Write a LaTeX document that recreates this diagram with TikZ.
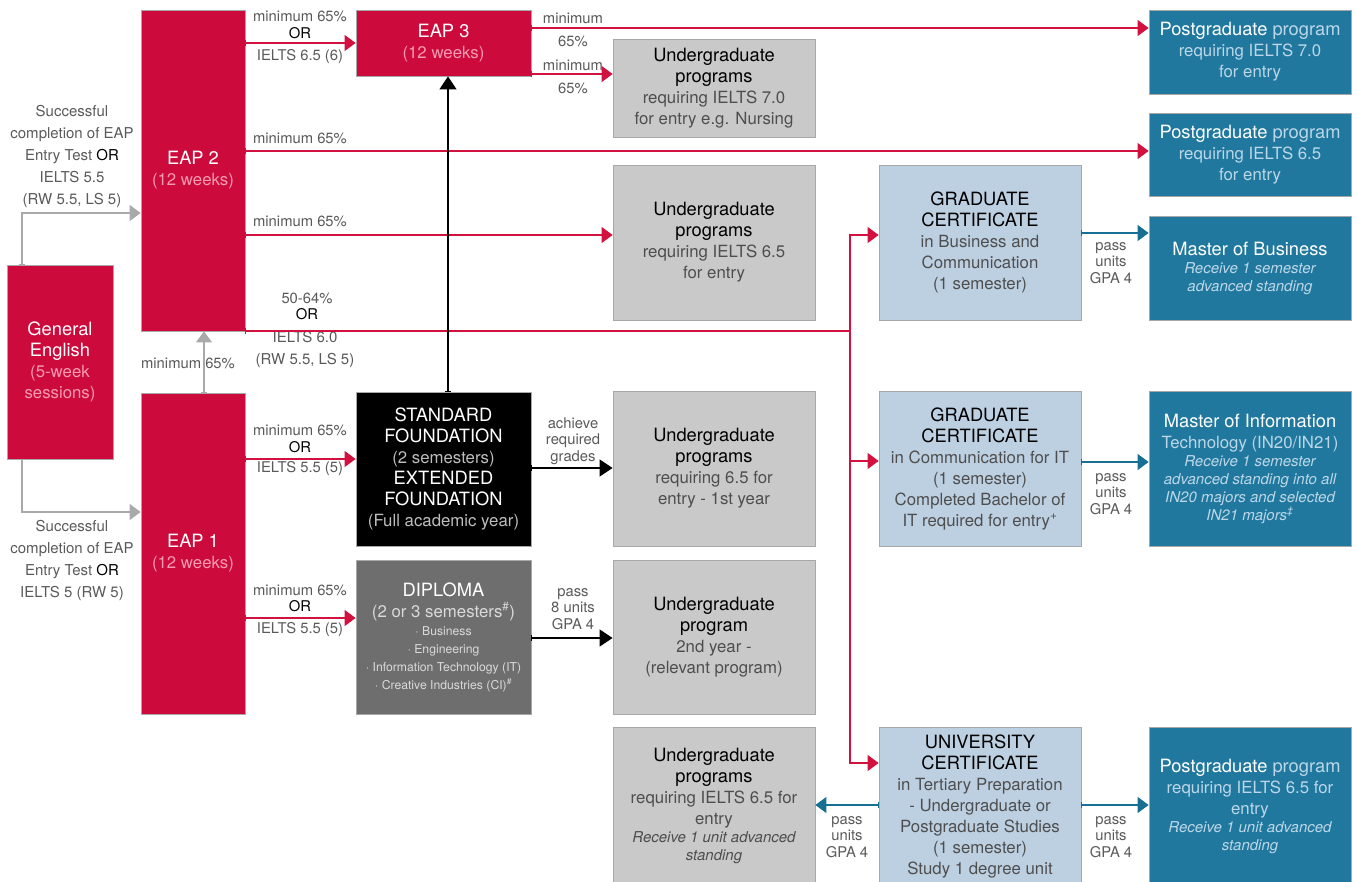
\documentclass[tikz,border=0pt]{standalone}
\usepackage{fontspec}
\setmainfont{TeX Gyre Heros}
\usetikzlibrary{arrows.meta}
\definecolor{eapred}{HTML}{CC0A3B}
\definecolor{pinktxt}{HTML}{F49BB3}
\definecolor{tealbox}{HTML}{21789E}
\definecolor{tealtxt}{HTML}{BBD7E8}
\definecolor{lbluebox}{HTML}{BDD0E2}
\definecolor{graybox}{HTML}{C9C9C9}
\definecolor{dipbox}{HTML}{6E6E6E}
\definecolor{diptxt}{HTML}{DADADA}
\definecolor{boxline}{HTML}{A8A8A8}
\definecolor{labgray}{HTML}{5A5A5A}
\definecolor{bodygray}{HTML}{4E4E4E}
\definecolor{sftxt}{HTML}{BDBDBD}
\definecolor{arrred}{HTML}{D3113F}
\definecolor{arrteal}{HTML}{176F93}
\definecolor{arrgray}{HTML}{A9A9A9}
\newcommand\Ttl[1]{{\fontsize{18.3}{21}\selectfont #1}}
\newcommand\Itl[1]{{\fontsize{15}{18}\selectfont\itshape #1}}
\newcommand\Sml[1]{{\fontsize{12.2}{18}\selectfont #1}}
\begin{document}
\begin{tikzpicture}[x=1pt,y=-1pt,
  box/.style={draw=boxline,line width=0.8pt,inner sep=0pt,align=center,font=\fontsize{16.8}{21}\selectfont},
  redbox/.style={box,fill=eapred,text=pinktxt},
  greybox/.style={box,fill=graybox,text=bodygray,minimum width=202pt},
  tbox/.style={box,fill=tealbox,text=tealtxt,minimum width=202pt},
  lbbox/.style={box,fill=lbluebox,text=bodygray,minimum width=202pt},
  lab/.style={inner sep=0pt,align=center,text=labgray,font=\fontsize{14.8}{16.5}\selectfont},
  llab/.style={inner sep=0pt,align=center,text=labgray,font=\fontsize{15}{22}\selectfont},
  conn/.style={line width=1.2pt},
  redc/.style={conn,draw=arrred,{Bar[width=6pt,line width=0.8pt]}-{Triangle[length=11pt,width=16pt]}},
  redend/.style={conn,draw=arrred,-{Triangle[length=11pt,width=16pt]}},
  blkc/.style={conn,draw=black,{Bar[width=6pt,line width=0.8pt]}-{Triangle[length=13pt,width=17pt]}},
  grayc/.style={conn,draw=arrgray,{Bar[width=6pt,line width=0.8pt]}-{Triangle[length=11pt,width=16pt]}},
  tealc/.style={conn,draw=arrteal,{Bar[width=6pt,line width=0.8pt]}-{Triangle[length=11pt,width=16pt]}}
]
\useasboundingbox (0,0) rectangle (1357,881);

% row coordinates
\coordinate (r28) at (0,28);
\coordinate (r74) at (0,74);
\coordinate (r151) at (0,151);
\coordinate (r213) at (0,213);
\coordinate (r233) at (0,233);
\coordinate (r235) at (0,235);
\coordinate (r331) at (0,331);
\coordinate (r459) at (0,459);
\coordinate (r461) at (0,461);
\coordinate (r462) at (0,462);
\coordinate (r468) at (0,468);
\coordinate (r512) at (0,512);
\coordinate (r618) at (0,618);
\coordinate (r638) at (0,638);
\coordinate (r763) at (0,763);
\coordinate (r805) at (0,805);
\coordinate (j) at (850,331);

% boxes
\node[redbox,minimum width=106pt,minimum height=194pt] (ge) at (60,362)
  {\textcolor{white}{\Ttl{General}}\\ \textcolor{white}{\Ttl{English}}\\ (5-week\\ sessions)};
\node[redbox,minimum width=104pt,minimum height=321pt] (eap2) at (193,170.5)
  {\textcolor{white}{\Ttl{EAP 2}}\\ (12 weeks)};
\node[redbox,minimum width=104pt,minimum height=321pt] (eap1) at (193,553.5)
  {\textcolor{white}{\Ttl{EAP 1}}\\ (12 weeks)};
\node[redbox,minimum width=175pt,minimum height=66pt] (eap3) at (443.5,43)
  {\textcolor{white}{\Ttl{EAP 3}}\\ (12 weeks)};

\node[greybox,minimum height=98pt] (ug70) at (714,88)
  {\textcolor{black}{\Ttl{Undergraduate}}\\ \textcolor{black}{\Ttl{programs}}\\ requiring IELTS 7.0\\ for entry e.g. Nursing};
\node[tbox,minimum height=84pt] (pg70) at (1250,52)
  {\Ttl{\textcolor{white}{Postgraduate} program}\\ requiring IELTS 7.0\\ for entry};
\node[tbox,minimum height=83pt] (pg65) at (1250,154.5)
  {\Ttl{\textcolor{white}{Postgraduate} program}\\ requiring IELTS 6.5\\ for entry};
\node[greybox,minimum height=155pt] (ug65) at (714,242.5)
  {\textcolor{black}{\Ttl{Undergraduate}}\\ \textcolor{black}{\Ttl{programs}}\\ requiring IELTS 6.5\\ for entry};
\node[lbbox,minimum height=155pt] (gcb) at (980,242.5)
  {\textcolor{black}{\Ttl{GRADUATE}}\\ \textcolor{black}{\Ttl{CERTIFICATE}}\\ in Business and\\ Communication\\ (1 semester)};
\node[tbox,minimum height=104pt] (mb) at (1250,268)
  {\textcolor{white}{\Ttl{Master of Business}}\\[-3pt]
   \Itl{Receive 1 semester}\\[-3pt]
   \Itl{advanced standing}};

\node[box,fill=black,text=sftxt,minimum width=175pt,minimum height=154pt] (sf) at (443.5,469)
  {\textcolor{white}{\Ttl{STANDARD}}\\ \textcolor{white}{\Ttl{FOUNDATION}}\\ (2 semesters)\\
   \textcolor{white}{\Ttl{EXTENDED}}\\ \textcolor{white}{\Ttl{FOUNDATION}}\\ (Full academic year)};
\node[greybox,minimum height=155pt] (ug1) at (714,468.5)
  {\textcolor{black}{\Ttl{Undergraduate}}\\ \textcolor{black}{\Ttl{programs}}\\ requiring 6.5 for\\ entry - 1st year};
\node[box,fill=dipbox,text=diptxt,minimum width=175pt,minimum height=154pt] (dip) at (443.5,637)
  {\textcolor{white}{\Ttl{DIPLOMA}}\\ (2 or 3 semesters\textsuperscript{\#})\\[-3pt]
   \Sml{· Business}\\[-3pt]
   \Sml{· Engineering}\\[-3pt]
   \Sml{· Information Technology (IT)}\\[-3pt]
   \Sml{· Creative Industries (CI)\textsuperscript{\#}}};
\node[greybox,minimum height=154pt] (ug2) at (714,637)
  {\textcolor{black}{\Ttl{Undergraduate}}\\ \textcolor{black}{\Ttl{program}}\\ 2nd year -\\ (relevant program)};
\node[lbbox,minimum height=155pt] (gcit) at (980,468.5)
  {\textcolor{black}{\Ttl{GRADUATE}}\\ \textcolor{black}{\Ttl{CERTIFICATE}}\\ in Communication for IT\\ (1 semester)\\
   Completed Bachelor of\\ IT required for entry\textsuperscript{+}};
\node[tbox,minimum height=155pt] (mit) at (1250,468.5)
  {\textcolor{white}{\Ttl{Master of Information}}\\ Technology (IN20/IN21)\\[-3pt]
   \Itl{Receive 1 semester}\\[-3pt]
   \Itl{advanced standing into all}\\[-3pt]
   \Itl{IN20 majors and selected}\\[-3pt]
   \Itl{IN21 majors\textsuperscript{\textdaggerdbl}}};
\node[greybox,minimum height=158pt] (ugb) at (714,806)
  {\textcolor{black}{\Ttl{Undergraduate}}\\ \textcolor{black}{\Ttl{programs}}\\ requiring IELTS 6.5 for\\ entry\\[-3pt]
   \Itl{Receive 1 unit advanced}\\[-3pt]
   \Itl{standing}};
\node[lbbox,minimum height=158pt] (uc) at (980,806)
  {\textcolor{black}{\Ttl{UNIVERSITY}}\\ \textcolor{black}{\Ttl{CERTIFICATE}}\\ in Tertiary Preparation\\ - Undergraduate or\\
   Postgraduate Studies\\ (1 semester)\\ Study 1 degree unit};
\node[tbox,minimum height=158pt] (pgb) at (1250,806)
  {\Ttl{\textcolor{white}{Postgraduate} program}\\ requiring IELTS 6.5 for\\ entry\\[-3pt]
   \Itl{Receive 1 unit advanced}\\[-3pt]
   \Itl{standing}};

% labels
\node[lab] (l1a) at (300,25) {minimum 65\%\\ \textcolor{black}{OR}};
\node[lab] (l1b) at (300,57) {IELTS 6.5 (6)};
\node[lab] (l2a) at (573,18) {minimum};
\node[lab] (l2b) at (573,41) {65\%};
\node[lab] (l3a) at (573,65) {minimum};
\node[lab] (l3b) at (573,88) {65\%};
\node[lab] (l4) at (300,138) {minimum 65\%};
\node[lab] (l5) at (300,221) {minimum 65\%};
\node[lab] (l6a) at (307,306.5) {50-64\%\\ \textcolor{black}{OR}};
\node[llab] (l6b) at (305,349) {IELTS 6.0\\ (RW 5.5, LS 5)};
\node[lab] (l7) at (188,363) {minimum 65\%};
\node[llab] (l8) at (72,156) {Successful\\ completion of EAP\\ Entry Test \textcolor{black}{OR}\\ IELTS 5.5\\ (RW 5.5, LS 5)};
\node[llab] (l9) at (72,560) {Successful\\ completion of EAP\\ Entry Test \textcolor{black}{OR}\\ IELTS 5 (RW 5)};
\node[lab] (l10a) at (300,439) {minimum 65\%\\ \textcolor{black}{OR}};
\node[lab] (l10b) at (300,469) {IELTS 5.5 (5)};
\node[lab] (l11a) at (300,598.5) {minimum 65\%\\ \textcolor{black}{OR}};
\node[lab] (l11b) at (300,630) {IELTS 5.5 (5)};
\node[lab] (l12) at (573,441) {achieve\\ required\\ grades};
\node[lab] (l13) at (573,609) {pass\\ 8 units\\ GPA 4};
\node[lab] (l14) at (1111,263) {pass\\ units\\ GPA 4};
\node[lab] (l15) at (1111,494) {pass\\ units\\ GPA 4};
\node[lab] (l16) at (847,837) {pass\\ units\\ GPA 4};
\node[lab] (l17) at (1111,837) {pass\\ units\\ GPA 4};

% red connectors
\draw[redc] (eap2.east |- eap3.west) -- (eap3.west);
\draw[redc] (eap3.east |- r28) -- (pg70.west |- r28);
\draw[redc] (eap3.east |- r74) -- (ug70.west |- r74);
\draw[redc] (eap2.east |- r151) -- (pg65.west |- r151);
\draw[redc] (eap2.east |- r235) -- (ug65.west |- r235);
\draw[redc] (eap2.east |- r331) -- (j) |- (gcb.west |- r235);
\draw[redend] (j) |- (gcit.west |- r461);
\draw[redend] (j) |- (uc.west |- r763);
\draw[redc] (eap1.east |- r459) -- (sf.west |- r459);
\draw[redc] (eap1.east |- r618) -- (dip.west |- r618);

% grey connectors
\draw[grayc] ([xshift=11pt]eap1.north) -- ([xshift=11pt]eap2.south);
\draw[grayc] ([xshift=-38pt]ge.north) |- (eap2.west |- r213);
\draw[grayc] ([xshift=-38pt]ge.south) |- (eap1.west |- r512);

% black connectors
\draw[blkc] ([xshift=4.5pt]sf.north) -- ([xshift=4.5pt]eap3.south);
\draw[blkc] (sf.east |- r468) -- (ug1.west |- r468);
\draw[blkc] (dip.east |- r638) -- (ug2.west |- r638);

% teal connectors
\draw[tealc] (gcb.east |- r233) -- (mb.west |- r233);
\draw[tealc] (gcit.east |- r462) -- (mit.west |- r462);
\draw[tealc] (uc.west |- r805) -- (ugb.east |- r805);
\draw[tealc] (uc.east |- r805) -- (pgb.west |- r805);
\end{tikzpicture}
\end{document}
